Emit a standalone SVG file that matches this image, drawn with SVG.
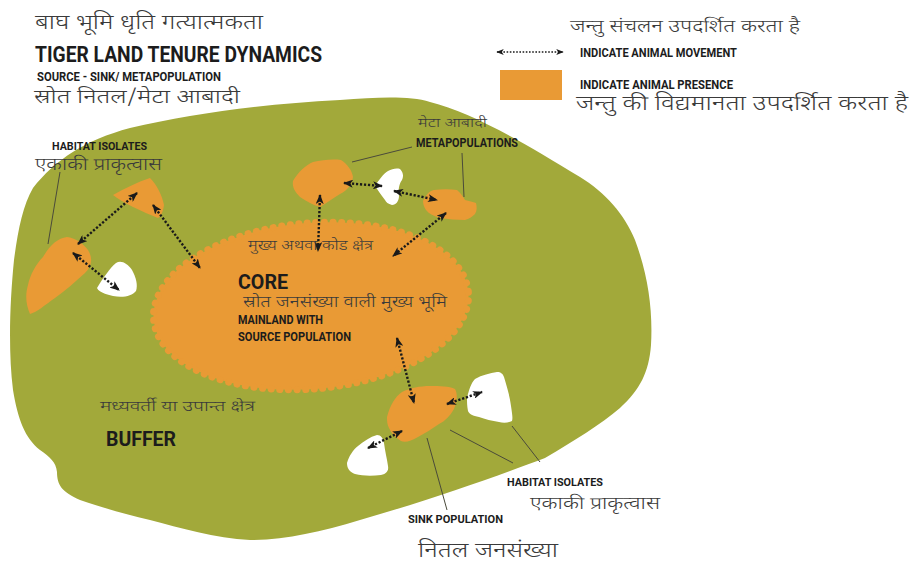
<svg xmlns="http://www.w3.org/2000/svg" width="914" height="569" viewBox="0 0 914 569">
  <defs>
    <marker id="head" viewBox="0 0 10 8" refX="9" refY="4" markerWidth="10" markerHeight="8" markerUnits="userSpaceOnUse" orient="auto-start-reverse">
      <path d="M0,0 L10,4 L0,8 L2.5,4 Z" fill="#1a1a1a"/>
    </marker>
    <marker id="headSmall" viewBox="0 0 10 8" refX="9" refY="4" markerWidth="9" markerHeight="6" markerUnits="userSpaceOnUse" orient="auto-start-reverse">
      <path d="M0,0 L10,4 L0,8 L2.5,4 Z" fill="#1a1a1a"/>
    </marker>
    <style>
      .green { fill: #a2a93a; }
      .orange { fill: #e99a35; }
      .white { fill: #ffffff; }
      .move { stroke: #1a1a1a; stroke-width: 2.4; stroke-dasharray: 2.2 1.8; fill: none; marker-start: url(#head); marker-end: url(#head); }
      .lead { stroke: #4a4a3a; stroke-width: 1; fill: none; }
      .hi { font-family: "Noto Sans Devanagari", "Noto Sans", "Lohit Devanagari", sans-serif; font-weight: 300; fill: #3a3a3a; }
      .en { font-family: "Roboto", "Liberation Sans", sans-serif; font-weight: bold; fill: #1c1c1c; }
    </style>
  </defs>
  <rect width="914" height="569" fill="#ffffff"/>

  <!-- buffer zone -->
  <g id="buffer">
    <path class="green" d="M33,188 C55,160 85,140 130,128 C190,114 260,104 340,100 C380,97 410,96 430,102 C470,112 520,140 580,177 C605,192 625,215 635,240 C648,275 653,310 651,345 C649,372 640,390 620,408 C600,425 575,440 545,458 C500,475 430,500 360,520 C320,532 285,540 250,540 C215,538 180,528 150,520 C125,514 100,507 80,500 C62,492 57,485 57,472 C56,462 50,457 40,450 C25,438 18,420 13,390 C8,350 10,300 14,260 C18,230 23,205 33,188 Z"/>
  </g>

  <!-- core zone with scalloped edge -->
  <g id="core">
    <ellipse class="orange" cx="311" cy="306" rx="158" ry="83" transform="rotate(-5 311 306)"/>
    <ellipse cx="311" cy="306" rx="158" ry="83" transform="rotate(-5 311 306)" fill="none" stroke="#e99a35" stroke-width="7" stroke-dasharray="0.1 8.5" stroke-linecap="round"/>
  </g>

  <!-- habitat isolates, upper left -->
  <g id="isolate-left">
    <path class="orange" d="M43,257 C50,245 58,238 67,237 C75,238 83,243 88,250 C93,258 92,266 85,273 C75,282 66,290 55,298 C45,305 37,312 30,314 C26,305 25,295 28,285 C30,275 36,264 43,257 Z"/>
  </g>
  <g id="isolate-upper">
    <path class="orange" d="M113,195 C125,188 138,182 150,178 C157,185 162,195 164,205 C163,212 161,216 158,218 C150,215 142,211 133,207 C125,203 118,199 113,195 Z"/>
  </g>
  <g id="empty-left">
    <path class="white" d="M97,288 C103,278 110,268 116,263 C121,260 127,263 132,270 C136,277 138,285 136,291 C132,296 123,298 113,296 C105,294 99,292 97,288 Z"/>
  </g>

  <!-- metapopulation patches -->
  <g id="meta-a">
    <path class="orange" d="M293,181 C298,172 306,165 313,162 C322,160 332,159 341,160 C347,164 352,170 353,177 C352,184 348,190 340,194 C333,198 327,203 320,207 C313,205 306,201 300,197 C295,192 292,187 293,181 Z"/>
  </g>
  <g id="meta-b">
    <path class="white" d="M375,186 C379,180 383,174 388,171 C392,169 396,168 400,169 C403,172 404,176 402,180 C399,184 398,190 399,196 C399,201 396,205 392,205 C388,204 386,202 385,200 C381,195 378,190 375,186 Z"/>
  </g>
  <g id="meta-c">
    <path class="orange" d="M423,201 C426,195 429,191 434,190 C442,189 450,189 457,190 C461,193 463,197 465,200 C469,201 473,202 476,203 C477,207 477,211 475,214 C472,217 469,219 465,220 C457,220 448,219 440,218 C434,216 429,214 426,210 C424,207 423,204 423,201 Z"/>
  </g>

  <!-- sink population and its isolates -->
  <g id="sink">
    <path class="orange" d="M387,417 C390,405 395,397 402,392 C410,388 420,386 430,386 C440,386 449,386 455,389 C458,394 457,402 454,409 C450,416 445,421 439,424 C432,429 425,433 418,437 C411,441 405,443 401,441 C395,437 391,433 389,428 C387,424 387,421 387,417 Z"/>
  </g>
  <g id="sink-isolate-right">
    <path class="white" d="M467,398 C469,390 471,383 475,379 C482,375 490,373 497,372 C501,372 503,374 504,377 C507,387 510,397 511,406 C512,413 513,418 512,421 C508,423 503,423 499,422 C492,421 485,419 479,417 C473,416 469,414 468,411 C467,406 467,402 467,398 Z"/>
  </g>
  <g id="sink-isolate-left">
    <path class="white" d="M347,463 C349,456 353,450 358,446 C364,441 370,437 377,435 C381,435 383,438 384,443 C385,451 387,459 388,466 C389,471 386,474 381,475 C372,476 363,476 355,474 C350,472 347,469 347,463 Z"/>
  </g>

  <!-- movement arrows and leader lines -->
  <g id="connectors">
    <line class="move" x1="78" y1="244" x2="137" y2="193"/>
    <line class="move" x1="73" y1="253" x2="119" y2="290"/>
    <line class="move" x1="153" y1="205" x2="200" y2="268"/>
    <line class="move" x1="320" y1="195" x2="318" y2="251"/>
    <line class="move" x1="344" y1="183" x2="382" y2="186"/>
    <line class="move" x1="394" y1="191" x2="437" y2="200"/>
    <line class="move" x1="446" y1="213" x2="393" y2="256"/>
    <line class="move" x1="397" y1="338" x2="414" y2="403"/>
    <line class="move" x1="447" y1="404" x2="482" y2="392"/>
    <line class="move" x1="402" y1="431" x2="368" y2="448"/>
    <line x1="497" y1="52" x2="563" y2="52" stroke="#1a1a1a" stroke-width="1.6" stroke-dasharray="1.6 1.6" marker-start="url(#headSmall)" marker-end="url(#headSmall)"/>

    <line class="lead" x1="60" y1="172" x2="48" y2="244"/>
    <line class="lead" x1="412" y1="147" x2="352" y2="162"/>
    <line class="lead" x1="462" y1="153" x2="464" y2="197"/>
    <line class="lead" x1="427" y1="438" x2="447" y2="510"/>
    <line class="lead" x1="450" y1="430" x2="513" y2="463"/>
    <line class="lead" x1="512" y1="426" x2="540" y2="462"/>
  </g>

  <!-- legend swatch -->
  <g id="legend">
    <rect class="orange" x="500" y="70" width="62" height="30"/>
  </g>

  <!-- titles and labels -->
  <g id="labels">
    <text class="hi" x="35" y="29" font-size="21" textLength="228" lengthAdjust="spacingAndGlyphs">बाघ भूमि धृति गत्यात्मकता</text>
    <text class="en" x="35" y="62" font-size="22" textLength="287" lengthAdjust="spacingAndGlyphs">TIGER LAND TENURE DYNAMICS</text>
    <text class="en" x="37" y="81" font-size="12" textLength="184" lengthAdjust="spacingAndGlyphs">SOURCE - SINK/ METAPOPULATION</text>
    <text class="hi" x="34" y="103" font-size="19" textLength="206" lengthAdjust="spacingAndGlyphs">स्रोत नितल/मेटा आबादी</text>

    <text class="hi" x="570" y="32" font-size="17" textLength="230" lengthAdjust="spacingAndGlyphs">जन्तु संचलन उपदर्शित करता है</text>
    <text class="en" x="580" y="57" font-size="12" textLength="157" lengthAdjust="spacingAndGlyphs">INDICATE ANIMAL MOVEMENT</text>
    <text class="en" x="580" y="89" font-size="12" textLength="153" lengthAdjust="spacingAndGlyphs">INDICATE ANIMAL PRESENCE</text>
    <text class="hi" x="576" y="110" font-size="20" textLength="332" lengthAdjust="spacingAndGlyphs">जन्तु की विद्यमानता उपदर्शित करता है</text>

    <text class="hi" x="418" y="127" font-size="13" textLength="69" lengthAdjust="spacingAndGlyphs">मेटा आबादी</text>
    <text class="en" x="416" y="147" font-size="12" textLength="102" lengthAdjust="spacingAndGlyphs">METAPOPULATIONS</text>

    <text class="en" x="52" y="150" font-size="11.5" textLength="95" lengthAdjust="spacingAndGlyphs">HABITAT ISOLATES</text>
    <text class="hi" x="35" y="170" font-size="17" textLength="127" lengthAdjust="spacingAndGlyphs">एकाकी प्राकृत्वास</text>

    <text class="hi" x="248" y="250" font-size="14" textLength="125" lengthAdjust="spacingAndGlyphs">मुख्य अथवा कोड क्षेत्र</text>
    <text class="en" x="238" y="289" font-size="21" textLength="50" lengthAdjust="spacingAndGlyphs">CORE</text>
    <text class="hi" x="243" y="307" font-size="16" textLength="204" lengthAdjust="spacingAndGlyphs">स्रोत जनसंख्या वाली मुख्य भूमि</text>
    <text class="en" x="238" y="324" font-size="12" textLength="85" lengthAdjust="spacingAndGlyphs">MAINLAND WITH</text>
    <text class="en" x="238" y="341" font-size="12" textLength="113" lengthAdjust="spacingAndGlyphs">SOURCE POPULATION</text>

    <text class="hi" x="100" y="411" font-size="15" textLength="155" lengthAdjust="spacingAndGlyphs">मध्यवर्ती या उपान्त क्षेत्र</text>
    <text class="en" x="106" y="446" font-size="21" textLength="70" lengthAdjust="spacingAndGlyphs">BUFFER</text>

    <text class="en" x="507" y="486" font-size="11.5" textLength="96" lengthAdjust="spacingAndGlyphs">HABITAT ISOLATES</text>
    <text class="hi" x="530" y="509" font-size="17" textLength="130" lengthAdjust="spacingAndGlyphs">एकाकी प्राकृत्वास</text>
    <text class="en" x="408" y="523" font-size="11.5" textLength="95" lengthAdjust="spacingAndGlyphs">SINK POPULATION</text>
    <text class="hi" x="418" y="557" font-size="20" textLength="140" lengthAdjust="spacingAndGlyphs">नितल जनसंख्या</text>
  </g>
</svg>
